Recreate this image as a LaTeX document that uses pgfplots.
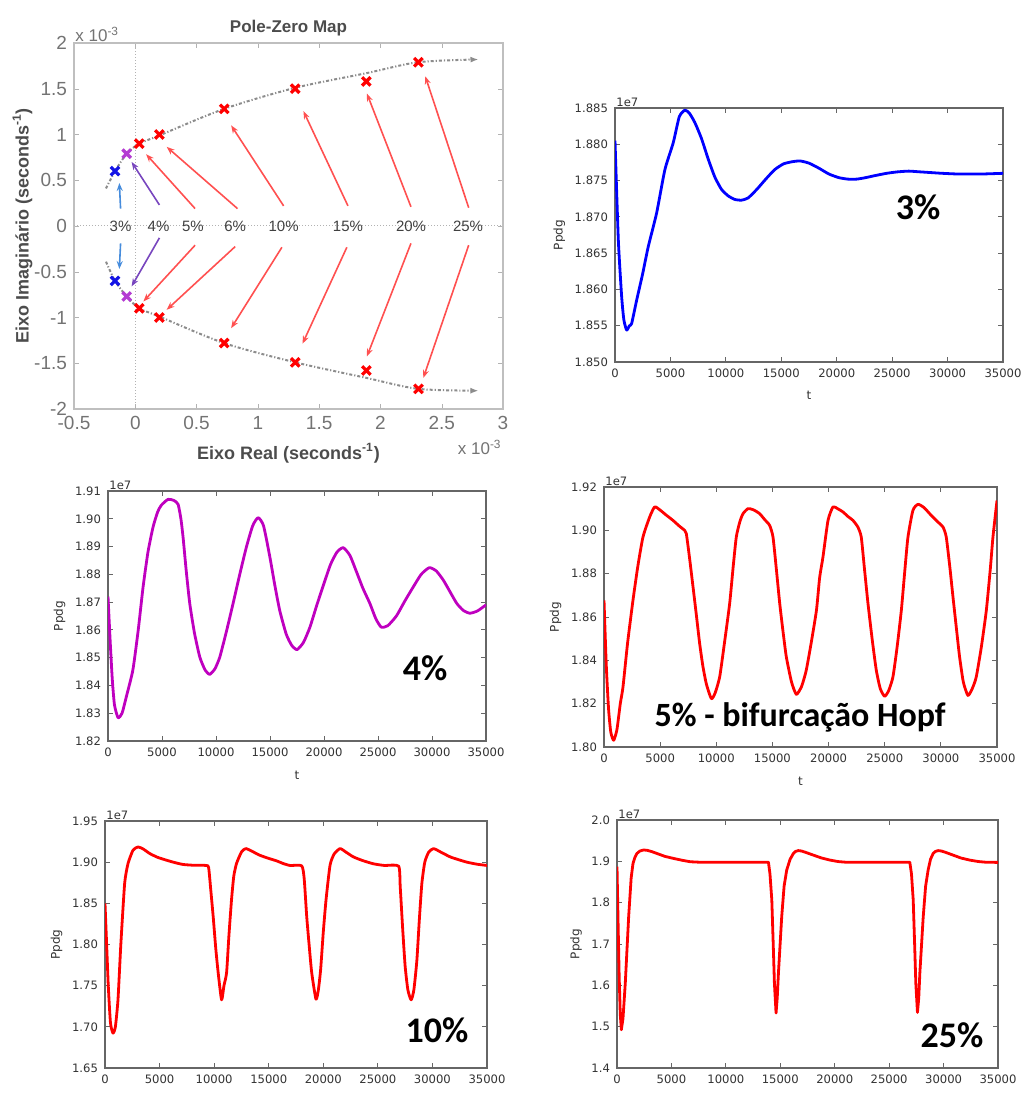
\documentclass[border=0pt]{standalone}
\usepackage{fontspec}
\setmainfont{DejaVu Sans}
\newfontfamily\helv{Liberation Sans}
\newfontfamily\calb{Carlito}
\usepackage{pgfplots}
\pgfplotsset{compat=1.18}
\usepackage{pgfplotstable}
\usetikzlibrary{arrows.meta}

\definecolor{mplmag}{RGB}{191,0,191}
\definecolor{pzblue}{RGB}{20,20,230}
\definecolor{pzpurple}{RGB}{180,60,210}
\definecolor{arrblue}{RGB}{70,140,220}
\definecolor{arrpurple}{RGB}{120,70,190}
\definecolor{arrred}{RGB}{255,80,80}

\pgfplotsset{
  mpl/.style={
    anchor=north west, scale only axis, clip mode=individual,
    xmin=0, xmax=35000, xtick={0,5000,...,35000},
    scaled ticks=false,
    axis line style={black!60, line width=0.9pt},
    tick style={black!60, line width=0.5pt},
    tick align=inside, major tick length=2.5pt,
    xtick pos=both, ytick pos=both, xticklabel pos=left, yticklabel pos=left,
    tick label style={font=\fontsize{5.8}{6}\selectfont, text=black!80},
    /pgf/number format/assume math mode=true,
    /pgf/number format/1000 sep={},
    xlabel={t}, ylabel={Ppdg},
    label style={font=\fontsize{6}{7}\selectfont, text=black!80},
    ylabel style={yshift=-2pt},
    every axis plot/.append style={line width=1.4pt, no marks, line join=round},
  },
  yfmt/.style={yticklabel style={/pgf/number format/.cd, fixed, fixed zerofill, precision=#1}},
}
\tikzset{
  pct/.style={font=\calb\bfseries\fontsize{18}{20}\selectfont},
  e7/.style={anchor=south west, inner sep=0.5pt, font=\fontsize{5.8}{6}\selectfont, text=black!80},
  arr/.style={line width=0.8pt, -{Stealth[length=4pt,width=3pt]}},
  traj/.style={black!45, line width=1pt, dash pattern=on 1.5pt off 1pt on 0.6pt off 1pt,
    smooth, -{Latex[length=4pt,width=3pt]}},
  pole/.style={only marks, mark=x, mark size=3pt, line width=1.6pt},
  soft/.style={smooth, tension=0.35},
}

% Ppdg responses, values in units of 1e7
\pgfplotstableread{
t y
0 1.8805
300 1.8668
600 1.8590
800 1.8558
1050 1.8544
1300 1.8550
1500 1.8553
1950 1.8585
2500 1.8622
3000 1.8659
3750 1.8705
4500 1.8765
5250 1.8802
5800 1.8838
6300 1.8847
6700 1.8843
7200 1.8830
7800 1.8808
8400 1.8780
9000 1.8755
9600 1.8738
10200 1.8729
10800 1.8724
11400 1.8723
12000 1.8726
12800 1.8738
13600 1.8752
14400 1.8765
15200 1.8773
16000 1.8776
16700 1.8777
17500 1.8774
18400 1.8767
19300 1.8759
20200 1.8754
21000 1.8752
21800 1.8752
22600 1.8754
23500 1.8757
24500 1.8760
25500 1.8762
26500 1.8763
27500 1.8762
28500 1.8761
29500 1.8760
31000 1.8759
33000 1.8759
35000 1.8760
}\tabA

\pgfplotstableread{
t y
0 1.8720
200 1.8560
400 1.8420
600 1.8330
930 1.8284
1300 1.8300
1700 1.8360
2300 1.8455
2800 1.8600
3250 1.8755
3700 1.8880
4170 1.8970
4600 1.9025
4940 1.9049
5560 1.9070
6100 1.9066
6490 1.9052
6750 1.9000
6950 1.8934
7250 1.8810
7570 1.8695
8000 1.8590
8500 1.8502
9000 1.8455
9420 1.8440
9900 1.8460
10350 1.8502
11000 1.8600
11580 1.8695
12200 1.8800
12820 1.8899
13400 1.8975
13900 1.9004
14400 1.8975
14980 1.8864
15450 1.8760
15900 1.8670
16500 1.8585
17000 1.8545
17500 1.8529
18100 1.8555
18700 1.8610
19300 1.8685
19900 1.8756
20600 1.8835
21200 1.8880
21780 1.8896
22400 1.8868
23000 1.8810
23600 1.8750
24250 1.8695
24800 1.8640
25300 1.8610
25900 1.8615
26700 1.8650
27500 1.8705
28270 1.8755
29000 1.8800
29750 1.8824
30400 1.8812
31050 1.8779
31700 1.8735
32300 1.8695
32900 1.8670
33500 1.8660
34200 1.8668
35000 1.8690
}\tabB

\pgfplotstableread{
t y
0 1.8677
200 1.8380
400 1.8180
600 1.8070
860 1.8031
1150 1.8080
1450 1.8200
1690 1.8277
2100 1.8480
2580 1.8677
3000 1.8830
3470 1.8969
4070 1.9062
4510 1.9108
4960 1.9095
5500 1.9072
6140 1.9046
6700 1.9020
7180 1.9000
7330 1.8985
7600 1.8880
7930 1.8738
8200 1.8620
8520 1.8477
8800 1.8375
9110 1.8292
9560 1.8223
9900 1.8250
10300 1.8323
10700 1.8470
11190 1.8662
11500 1.8830
11780 1.8969
12100 1.9040
12380 1.9077
12820 1.9100
13300 1.9095
13860 1.9077
14300 1.9050
14750 1.9023
15050 1.8969
15350 1.8820
15650 1.8662
15950 1.8530
16240 1.8415
16700 1.8300
17130 1.8243
17600 1.8280
18010 1.8354
18450 1.8480
18920 1.8631
19200 1.8780
19500 1.8877
19950 1.9046
20390 1.9108
20800 1.9100
21280 1.9085
21700 1.9065
22170 1.9046
22610 1.9015
22910 1.8969
23200 1.8820
23510 1.8662
23900 1.8490
24250 1.8354
24600 1.8270
24990 1.8234
25350 1.8260
25730 1.8323
26100 1.8460
26480 1.8631
26800 1.8820
27070 1.8969
27510 1.9092
27960 1.9120
28500 1.9105
29000 1.9077
29600 1.9045
30190 1.9015
30480 1.8969
30800 1.8830
31080 1.8692
31400 1.8540
31670 1.8415
32000 1.8300
32410 1.8238
32800 1.8270
33150 1.8323
33600 1.8460
34050 1.8631
34400 1.8820
34640 1.8969
35000 1.9138
}\tabC

\pgfplotstableread{
t y
0 1.8500
150 1.8000
300 1.7500
500 1.7050
730 1.6924
950 1.7000
1190 1.7330
1450 1.8000
1800 1.8740
2110 1.8984
2570 1.9146
3030 1.9185
3500 1.9160
4100 1.9105
4800 1.9060
5630 1.9024
6400 1.8995
7160 1.8972
8200 1.8962
9300 1.8960
9500 1.8930
9700 1.8650
9910 1.8343
10150 1.7950
10370 1.7657
10680 1.7328
10900 1.7500
11140 1.7657
11350 1.8100
11590 1.8540
11800 1.8830
12050 1.8984
12510 1.9125
12910 1.9165
13500 1.9130
14190 1.9084
14900 1.9050
15720 1.9016
16300 1.8985
16950 1.8960
18020 1.8956
18250 1.8800
18480 1.8343
18700 1.8000
18940 1.7657
19330 1.7336
19550 1.7450
19760 1.7700
20000 1.8150
20250 1.8540
20620 1.8964
21000 1.9100
21540 1.9165
22100 1.9120
22760 1.9064
23600 1.9020
24600 1.8980
25600 1.8960
26900 1.8952
27050 1.8700
27270 1.8200
27500 1.7737
27750 1.7450
28050 1.7328
28300 1.7450
28570 1.7800
28800 1.8300
29030 1.8740
29300 1.9000
29650 1.9120
30100 1.9165
30800 1.9120
31630 1.9064
32400 1.9030
33160 1.9000
34100 1.8975
35000 1.8960
}\tabD

\pgfplotstableread{
t y
0 1.8870
100 1.7500
200 1.6200
300 1.5300
400 1.4926
550 1.5200
760 1.6050
1070 1.7660
1300 1.8600
1470 1.8950
1650 1.9100
1830 1.9190
2100 1.9250
2450 1.9275
2800 1.9265
3200 1.9235
3670 1.9190
4400 1.9120
5200 1.9070
6000 1.9025
6730 1.8990
7500 1.8980
8250 1.8977
13910 1.8980
14050 1.8700
14220 1.8070
14350 1.7000
14460 1.6050
14610 1.5330
14720 1.5700
14830 1.6300
15130 1.7660
15350 1.8400
15590 1.8790
15900 1.9050
16200 1.9190
16400 1.9240
16660 1.9260
16950 1.9250
17300 1.9220
18040 1.9150
18800 1.9080
19570 1.9030
20300 1.8995
21090 1.8977
26900 1.8977
27050 1.8700
27210 1.8070
27340 1.7000
27450 1.6050
27600 1.5345
27720 1.5700
27820 1.6300
28130 1.7660
28350 1.8400
28580 1.8790
28800 1.9050
29040 1.9190
29250 1.9240
29500 1.9260
29800 1.9250
30150 1.9220
30880 1.9150
31600 1.9080
32410 1.9030
33200 1.8995
33940 1.8977
35000 1.8975
}\tabE

\begin{document}
\begin{tikzpicture}
\useasboundingbox (0,0) rectangle (510.5pt,-547.5pt);

% pole-zero map (real and imaginary parts in units of 1e-3)
\begin{axis}[
  at={(37pt,-21.5pt)}, anchor=north west, scale only axis,
  width=214.5pt, height=183pt,
  xmin=-0.5, xmax=3, ymin=-2, ymax=2,
  xtick={-0.5,0,...,3}, ytick={-2,-1.5,...,2},
  axis line style={black!25, line width=0.6pt},
  tick style={black!30}, tick align=inside, major tick length=2.5pt,
  xtick pos=both, ytick pos=both, xticklabel pos=left, yticklabel pos=left,
  tick label style={font=\helv\fontsize{9.5}{10}\selectfont, text=black!55},
  /pgf/number format/assume math mode=true,
  title={Pole-Zero Map},
  title style={font=\helv\bfseries\fontsize{8.5}{9}\selectfont, text=black!70, yshift=-6pt},
  xlabel={Eixo Real (seconds\textsuperscript{-1})},
  ylabel={Eixo Imaginário (seconds\textsuperscript{-1})},
  label style={font=\helv\bfseries\fontsize{9}{10}\selectfont, text=black!70},
  ylabel style={yshift=-6pt},
  clip=false,
]
\addplot[black!30, densely dotted, line width=0.5pt] coordinates {(0,-2) (0,2)};
\addplot[black!30, densely dotted, line width=0.5pt] coordinates {(-0.5,0) (3,0)};
\addplot[traj] coordinates {(-0.239,0.41) (-0.165,0.60) (-0.07,0.79) (0.033,0.90) (0.197,0.99)
  (0.725,1.28) (1.305,1.51) (1.885,1.67) (2.31,1.79) (2.80,1.82)};
\addplot[traj] coordinates {(-0.239,-0.39) (-0.165,-0.60) (-0.07,-0.77) (0.033,-0.90) (0.197,-0.99)
  (0.725,-1.28) (1.305,-1.49) (1.885,-1.66) (2.31,-1.78) (2.80,-1.80)};
% arrows from the labels to the poles
\addplot[arr, arrblue] coordinates {(-0.12,0.19) (-0.13,0.47)};
\addplot[arr, arrblue] coordinates {(-0.12,-0.19) (-0.13,-0.47)};
\addplot[arr, arrpurple] coordinates {(0.197,0.23) (-0.03,0.70)};
\addplot[arr, arrpurple] coordinates {(0.197,-0.13) (-0.03,-0.66)};
\addplot[arr, arrred] coordinates {(0.488,0.19) (0.088,0.785)};
\addplot[arr, arrred] coordinates {(0.488,-0.21) (0.066,-0.825)};
\addplot[arr, arrred] coordinates {(0.834,0.19) (0.256,0.865)};
\addplot[arr, arrred] coordinates {(0.815,-0.225) (0.256,-0.916)};
\addplot[arr, arrred] coordinates {(1.21,0.22) (0.782,1.10)};
\addplot[arr, arrred] coordinates {(1.196,-0.233) (0.782,-1.117)};
\addplot[arr, arrred] coordinates {(1.735,0.22) (1.372,1.255)};
\addplot[arr, arrred] coordinates {(1.726,-0.233) (1.364,-1.287)};
\addplot[arr, arrred] coordinates {(2.249,0.21) (1.89,1.447)};
\addplot[arr, arrred] coordinates {(2.249,-0.19) (1.89,-1.425)};
\addplot[arr, arrred] coordinates {(2.72,0.20) (2.366,1.636)};
\addplot[arr, arrred] coordinates {(2.72,-0.21) (2.35,-1.66)};
% poles
\addplot[pole, pzblue] coordinates {(-0.165,0.60) (-0.165,-0.60)};
\addplot[pole, pzpurple] coordinates {(-0.07,0.79) (-0.07,-0.77)};
\addplot[pole, red] coordinates {(0.033,0.90) (0.033,-0.90) (0.197,1.00) (0.197,-1.00)
  (0.725,1.28) (0.725,-1.28) (1.305,1.50) (1.305,-1.49) (1.885,1.58) (1.885,-1.58)
  (2.31,1.79) (2.31,-1.78)};
\foreach \xx/\lab in {-0.12/3, 0.19/4, 0.47/5, 0.815/6, 1.21/10, 1.735/15, 2.25/20, 2.715/25}{
  \edef\tmp{\noexpand\node[font=\noexpand\helv\noexpand\fontsize{7.5}{8}\noexpand\selectfont, text=black!75, inner sep=1pt] at (axis cs:\xx,0) {\lab\noexpand\%};}
  \tmp
}
\node[anchor=south west, inner sep=0.5pt, font=\helv\fontsize{8.5}{9}\selectfont, text=black!55]
  at (rel axis cs:0,1) {x 10\textsuperscript{-3}};
\node[anchor=north east, inner sep=0.5pt, font=\helv\fontsize{8.5}{9}\selectfont, text=black!55]
  at ([yshift=-15pt]rel axis cs:1,0) {x 10\textsuperscript{-3}};
\end{axis}

% 3%
\begin{axis}[mpl, yfmt=3, at={(307.5pt,-54pt)}, width=194pt, height=127pt,
  ymin=1.850, ymax=1.885, ytick={1.850,1.855,...,1.8851}]
\addplot[blue, soft] table[x=t, y=y] {\tabA};
\node[e7] at (rel axis cs:0,1) {1e7};
\node[pct] at (rel axis cs:0.781,0.61) {3\%};
\end{axis}

% 4%
\begin{axis}[mpl, yfmt=2, at={(54pt,-245.5pt)}, width=189pt, height=125pt,
  ymin=1.82, ymax=1.91, ytick={1.82,1.83,...,1.911}]
\addplot[mplmag, soft] table[x=t, y=y] {\tabB};
\node[e7] at (rel axis cs:0,1) {1e7};
\node[pct] at (rel axis cs:0.839,0.292) {4\%};
\end{axis}

% 5%
\begin{axis}[mpl, yfmt=2, at={(302pt,-243.5pt)}, width=196.5pt, height=130pt,
  ymin=1.80, ymax=1.92, ytick={1.80,1.82,...,1.921}]
\addplot[red, soft] table[x=t, y=y] {\tabC};
\node[e7] at (rel axis cs:0,1) {1e7};
\node[font=\calb\bfseries\fontsize{17}{20}\selectfont] at (rel axis cs:0.499,0.112) {5\% - bifurcação Hopf};
\end{axis}

% 10%
\begin{axis}[mpl, yfmt=2, at={(52.5pt,-410.5pt)}, width=191pt, height=123.5pt,
  ymin=1.65, ymax=1.95, ytick={1.65,1.70,...,1.951}]
\addplot[red, soft] table[x=t, y=y] {\tabD};
\node[e7] at (rel axis cs:0,1) {1e7};
\node[pct] at (rel axis cs:0.869,0.154) {10\%};
\end{axis}

% 25%
\begin{axis}[mpl, yfmt=1, at={(308.5pt,-410pt)}, width=190.5pt, height=124pt,
  ymin=1.4, ymax=2.0, ytick={1.4,1.5,...,2.01}]
\addplot[red] table[x=t, y=y] {\tabE};
\node[e7] at (rel axis cs:0,1) {1e7};
\node[pct] at (rel axis cs:0.879,0.133) {25\%};
\end{axis}
\end{tikzpicture}
\end{document}
